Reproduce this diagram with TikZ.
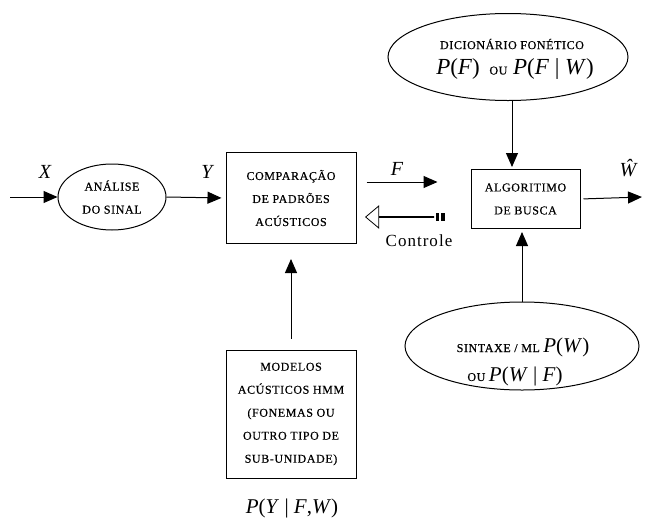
\documentclass[tikz,border=0pt]{standalone}
\usepackage{fontspec}
\setmainfont{Liberation Serif}
\newfontfamily\capsfont[LetterSpace=5,FakeBold=0.5]{Liberation Serif}
\newfontfamily\spacedfont[LetterSpace=6]{Liberation Serif}
\usetikzlibrary{arrows.meta,shapes.geometric,shapes.arrows}
\newcommand\iv[1]{\textit{#1}}
\newcommand\bigtxt{\normalfont\fontsize{21}{24}\selectfont}
\newcommand\hugetxt{\normalfont\fontsize{23}{26}\selectfont}
\newcommand\smallcaps{\capsfont\fontsize{12}{14}\selectfont}
\begin{document}
\begin{tikzpicture}[x=1pt,y=-1pt,
  line width=1pt,
  arr/.style={-{Triangle[length=14pt,width=12pt]}},
  boxtext/.style={font=\capsfont\fontsize{12}{23}\selectfont, align=center},
  blk/.style={draw, rectangle, boxtext, inner sep=0pt},
  ell/.style={draw, ellipse, boxtext, inner sep=0pt},
  sym/.style={font=\fontsize{20}{22}\selectfont\itshape, inner sep=0pt}
]
\useasboundingbox (0,0) rectangle (646,520);

% blocks
\node[ell, minimum width=108pt, minimum height=66pt] (ana) at (112,197) {ANÁLISE\\DO SINAL};
\node[blk, minimum width=130pt, minimum height=91pt] (cmp) at (291,198) {COMPARAÇÃO\\DE PADRÕES\\ACÚSTICOS};
\node[blk, minimum width=109pt, minimum height=59pt] (alg) at (525.5,199) {ALGORITIMO\\DE BUSCA};
\node[blk, minimum width=130pt, minimum height=128pt] (mod) at (291,414)
  {MODELOS\\ACÚSTICOS HMM\\(FONEMAS OU\\OUTRO TIPO DE\\SUB-UNIDADE)};

% knowledge sources (ellipses with their texts)
\node[ell, minimum width=240pt, minimum height=87pt] (dic) at (508,57) {};
\node[font=\smallcaps, inner sep=0pt] (dict1) at (512,44) {DICIONÁRIO FONÉTICO};
\node[font=\hugetxt, inner sep=0pt] (dict2) at (515,69)
  {\iv{P}(\iv{F})\, {\smallcaps OU} \iv{P}(\iv{F} | \iv{W})};
\node[ell, minimum width=234pt, minimum height=88pt] (syn) at (522,346) {};
\node[inner sep=0pt, anchor=base] (synt1) at (523,352)
  {\smallcaps SINTAXE / ML \bigtxt\iv{P}(\iv{W})};
\node[inner sep=0pt, anchor=base] (synt2) at (515,381)
  {\smallcaps OU \bigtxt\iv{P}(\iv{W} | \iv{F})};

% control (hollow) arrow pointing back to the comparison block
\node[draw, single arrow, shape border rotate=180, single arrow tip angle=80,
      single arrow head extend=7pt, minimum width=22pt, minimum height=68pt,
      inner sep=0pt, line width=0.8pt] (ctrl) at (400,217) {};
\fill (436,213) rectangle (439,221);
\fill (441,213) rectangle (445,221);
\node[font=\spacedfont\fontsize{17}{19}\selectfont, inner sep=0pt] (ctl) at (419,241) {Controle};

% free ends
\coordinate (in) at (10,197);
\coordinate (out) at (642,197);

% connectors
\draw[arr] (in) -- (ana.west);
\draw[arr, shorten >=4pt] (ana.east) -- (cmp.west);
\draw[arr, shorten <=10pt, shorten >=33pt] ([yshift=16pt]cmp.east) -- ([yshift=16pt]cmp.east -| alg.west);
\draw[arr, shorten <=3pt] (alg.east) -- (out);
\draw[arr, shorten >=2pt] (dic.south -| dict1) -- (dict1 |- alg.north);
\draw[arr, shorten >=3pt] (syn.north) -- (syn.north |- alg.south);
\draw[arr, shorten <=11pt, shorten >=15pt] (mod.north) -- (cmp.south);

% signal labels
\node[sym] (lx) at (45,172) {X};
\node[sym] (ly) at (207,172) {Y};
\node[sym] (lf) at (397,169) {F};
\node[sym] (lw) at (628,168) {Ŵ};
\node[sym, font=\fontsize{21}{23}\selectfont] (lp) at (292,508) {\iv{P}(\iv{Y} | \iv{F},\iv{W})};
\end{tikzpicture}
\end{document}
